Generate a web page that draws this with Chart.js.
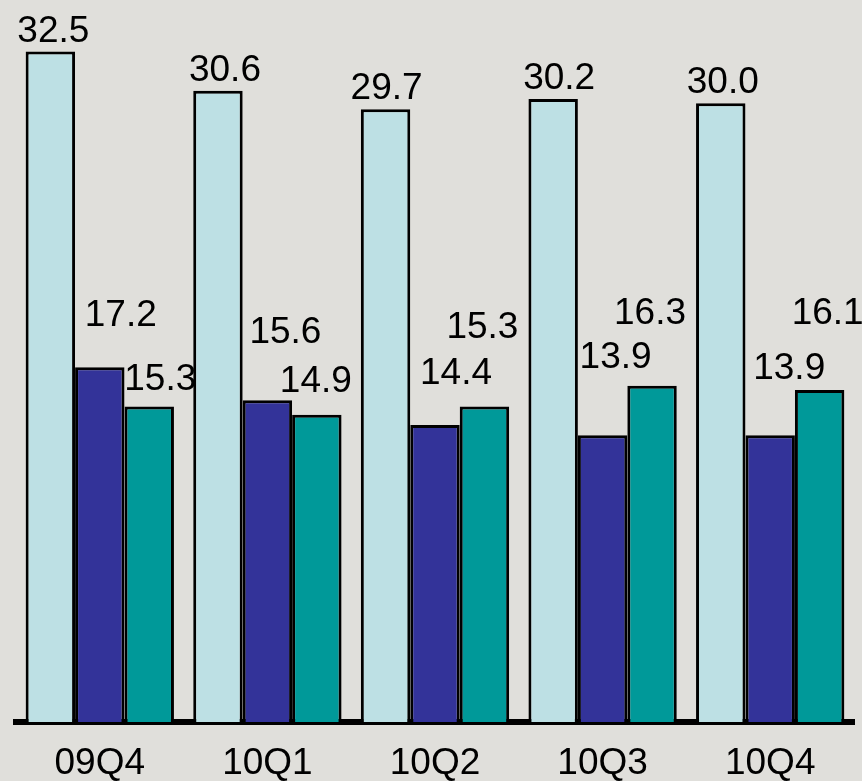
<!DOCTYPE html>
<html>
<head>
<meta charset="utf-8">
<script src="https://cdn.jsdelivr.net/npm/chart.js@4"></script>
<style>
  html, body { margin: 0; padding: 0; background: #e0dfdb; }
  #wrap { width: 862px; height: 781px; position: relative; }
</style>
</head>
<body>
<div id="wrap"><canvas id="c"></canvas></div>
<script>
const categories = ['09Q4', '10Q1', '10Q2', '10Q3', '10Q4'];
const seriesA = [32.5, 30.6, 29.7, 30.2, 30.0];
const seriesB = [17.2, 15.6, 14.4, 13.9, 13.9];
const seriesC = [15.3, 14.9, 15.3, 16.3, 16.1];

// label placement nudges (pixels): [dx, distance above bar top]
const labelNudgeA = [[3, 10], [7, 10], [1, 10], [6, 10], [2, 10]];
const labelNudgeB = [[21, 41], [18, 57], [21, 41], [13, 67], [19, 56]];
const labelNudgeC = [[11, 16], [-1, 23], [-2, 68], [-2, 62], [8, 66]];

const FONT = '"Liberation Sans", Arial, sans-serif';

const labelPlugin = {
  id: 'barLabels',
  afterDatasetsDraw(chart) {
    const ctx = chart.ctx;
    const nudges = [labelNudgeA, labelNudgeB, labelNudgeC];
    ctx.save();
    ctx.font = '37px ' + FONT;
    ctx.fillStyle = '#000';
    ctx.textAlign = 'center';
    ctx.textBaseline = 'alphabetic';
    chart.data.datasets.forEach((ds, di) => {
      const meta = chart.getDatasetMeta(di);
      meta.data.forEach((bar, i) => {
        const n = nudges[di][i];
        ctx.fillText(ds.data[i].toFixed(1), bar.x + n[0], bar.y - n[1]);
      });
    });
    ctx.restore();
  }
};

new Chart(document.getElementById('c'), {
  type: 'bar',
  data: {
    labels: categories,
    datasets: [
      { data: seriesA, backgroundColor: '#bde0e4', borderColor: '#000', borderWidth: 3, borderSkipped: 'bottom' },
      { data: seriesB, backgroundColor: '#333399', borderColor: '#000', borderWidth: 3, borderSkipped: 'bottom' },
      { data: seriesC, backgroundColor: '#009999', borderColor: '#000', borderWidth: 3, borderSkipped: 'bottom' }
    ]
  },
  options: {
    responsive: true,
    maintainAspectRatio: false,
    animation: false,
    layout: { padding: { left: 16, right: 8, top: 0, bottom: 0 } },
    plugins: { legend: { display: false }, tooltip: { enabled: false } },
    datasets: { bar: { categoryPercentage: 0.885, barPercentage: 1.0 } },
    scales: {
      x: {
        grid: { display: false, drawTicks: false },
        border: { display: true, color: '#000', width: 6 },
        ticks: { color: '#000', font: { family: FONT, size: 37 }, padding: 20 },
        afterFit(scale) { scale.height = 59; }
      },
      y: {
        display: false,
        min: 0,
        max: 35
      }
    }
  },
  plugins: [labelPlugin]
});
</script>
</body>
</html>
